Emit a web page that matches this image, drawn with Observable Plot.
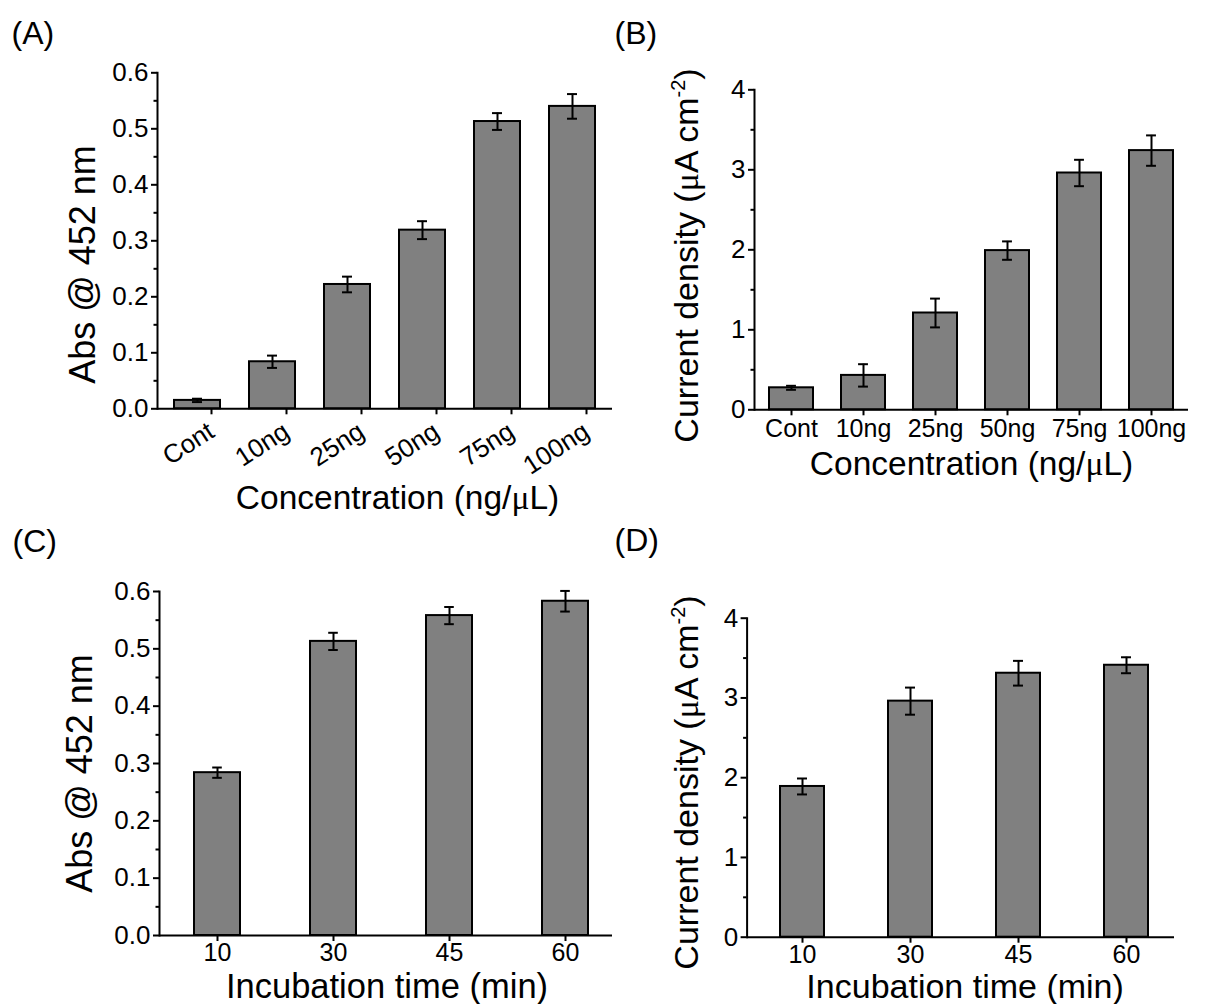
<!DOCTYPE html>
<html><head><meta charset="utf-8">
<script src="https://cdn.jsdelivr.net/npm/d3@7"></script>
<script src="https://cdn.jsdelivr.net/npm/@observablehq/plot@0.6"></script>
<style>
body{margin:0;background:#fff;}
#fig{position:relative;width:1205px;height:1004px;overflow:hidden;background:#fff;}
#fig svg{position:absolute;left:0;top:0;overflow:visible;max-width:none !important;}
</style></head><body><div id="fig"></div>
<script>
// ---- data ----
const concCats = ["Cont","10ng","25ng","50ng","75ng","100ng"];
const absConc = [0.015,0.084,0.222,0.319,0.513,0.540];
const absConcErr = [0.003,0.011,0.014,0.016,0.015,0.022];
const curConc = [0.275,0.43,1.21,1.99,2.96,3.24];
const curConcErr = [0.025,0.14,0.18,0.115,0.165,0.19];
const timeCats = ["10","30","45","60"];
const absTime = [0.284,0.513,0.558,0.583];
const absTimeErr = [0.009,0.015,0.015,0.018];
const curTime = [1.89,2.96,3.31,3.41];
const curTimeErr = [0.10,0.17,0.155,0.10];
const absTicks = [0,0.1,0.2,0.3,0.4,0.5,0.6];
const absMinor = [0.05,0.15,0.25,0.35,0.45,0.55];
const curTicks = [0,1,2,3,4];
const curMinor = [0.5,1.5,2.5,3.5];
const absLabel = "Abs @ 452 nm";
const curLabel = "Current density (μA cm^-2)";
const concLabel = "Concentration (ng/μL)";
const timeLabel = "Incubation time (min)";

const W = 1205, H = 1004;
const FONT = '"Liberation Sans", Arial, Helvetica, sans-serif';

function panel(o) {
  const data = o.cats.map((c, i) => ({c, v: o.vals[i], e: o.errs[i]}));
  const bw = (o.range[1] - o.range[0]) / o.cats.length * (1 - o.pad);
  const capInset = (bw - 10) / 2;
  const L = o.left, T = o.top;
  const txt = (s, X, Y, opts) => Plot.text([s], {
    text: d => d, frameAnchor: "top-left", dx: X - L, dy: Y - T, fill: "black", ...opts
  });
  return Plot.plot({
    width: W, height: H,
    marginLeft: o.left, marginRight: W - o.right, marginTop: o.top, marginBottom: H - o.bottom,
    style: {background: "transparent", fontFamily: FONT, color: "black", overflow: "visible"},
    x: {domain: o.cats, range: o.range, paddingInner: o.pad, paddingOuter: o.pad / 2},
    y: {domain: o.ydomain},
    marks: [
      Plot.barY(data, {x: "c", y: "v", fill: "#808080", stroke: "black", strokeWidth: 2}),
      Plot.ruleX(data, {x: "c", y1: d => d.v - d.e, y2: d => d.v + d.e, stroke: "black", strokeWidth: 2}),
      Plot.tickY(data, {x: "c", y: d => d.v + d.e, insetLeft: capInset, insetRight: capInset, stroke: "black", strokeWidth: 2}),
      Plot.tickY(data, {x: "c", y: d => d.v - d.e, insetLeft: capInset, insetRight: capInset, stroke: "black", strokeWidth: 2}),
      Plot.ruleY([o.ydomain[0]], {stroke: "black", strokeWidth: 2}),
      Plot.frame({anchor: "left", stroke: "black", strokeWidth: 2}),
      Plot.axisY(o.yticks, {tickSize: 6, strokeWidth: 2, fontSize: 26, tickPadding: 3, tickFormat: o.yfmt, label: null}),
      Plot.axisY(o.yminor, {tickSize: 3.5, strokeWidth: 2, fill: "none", label: null}),
      Plot.axisX({tickSize: 6, strokeWidth: 2, fontSize: o.xfs, tickPadding: o.xpad, tickRotate: o.rot, dx: o.xdx || 0, label: null}),
      txt(o.ylabel, o.ylx, o.yly, {rotate: -90, textAnchor: "middle", lineAnchor: "middle", fontSize: o.ylfs}),
      txt(o.xlabel, o.xlx, o.xly, {textAnchor: "middle", lineAnchor: "bottom", fontSize: o.xlfs}),
      txt(o.tag, o.tagx, o.tagy, {textAnchor: "start", lineAnchor: "bottom", fontSize: 32})
    ]
  });
}

function richText(svg) {
  d3.select(svg).selectAll("text").each(function () {
    const el = this;
    if (el.querySelector("tspan")) return;
    const s = el.textContent;
    if (!s.includes("μ") && !s.includes("^")) return;
    el.textContent = "";
    const parts = s.split(/(μ|\^-2)/).filter(p => p.length);
    let shifted = false;
    for (const p of parts) {
      const t = document.createElementNS("http://www.w3.org/2000/svg", "tspan");
      if (p === "μ") {
        t.setAttribute("font-family", '"Liberation Serif", "Times New Roman", serif');
        t.textContent = "μ";
      } else if (p === "^-2") {
        t.setAttribute("font-size", "20");
        t.setAttribute("dy", "-13");
        t.textContent = "-2";
        shifted = true;
      } else {
        if (shifted) { t.setAttribute("dy", "13"); shifted = false; }
        t.textContent = p;
      }
      el.appendChild(t);
    }
  });
}

const panels = [
  {cats: concCats, vals: absConc, errs: absConcErr, left: 157, right: 612, top: 72.3, bottom: 408.3,
   range: [157, 612], pad: 0.393, ydomain: [0, 0.6], yticks: absTicks, yminor: absMinor, yfmt: d3.format(".1f"),
   rot: -33, xfs: 26, xpad: 14, xdx: 14, ylabel: absLabel, ylx: 83, yly: 264, ylfs: 36,
   xlabel: concLabel, xlx: 397, xly: 508, xlfs: 33.5, tag: "(A)", tagx: 11, tagy: 43},
  {cats: concCats, vals: curConc, errs: curConcErr, left: 754, right: 1188, top: 89.3, bottom: 409.3,
   range: [754, 1188], pad: 0.39, ydomain: [0, 4], yticks: curTicks, yminor: curMinor, yfmt: d3.format("d"),
   rot: 0, xfs: 25, xpad: 3, ylabel: curLabel, ylx: 687, yly: 255, ylfs: 34,
   xlabel: concLabel, xlx: 971, xly: 474, xlfs: 33.5, tag: "(B)", tagx: 614, tagy: 43},
  {cats: timeCats, vals: absTime, errs: absTimeErr, left: 159, right: 612, top: 591, bottom: 935,
   range: [159, 623], pad: 0.6, ydomain: [0, 0.6], yticks: absTicks, yminor: absMinor, yfmt: d3.format(".1f"),
   rot: 0, xfs: 25, xpad: 2, ylabel: absLabel, ylx: 80, yly: 773, ylfs: 36,
   xlabel: timeLabel, xlx: 386.5, xly: 997, xlfs: 34.5, tag: "(C)", tagx: 12, tagy: 551},
  {cats: timeCats, vals: curTime, errs: curTimeErr, left: 746.6, right: 1174, top: 617.7, bottom: 936.7,
   range: [746.6, 1181.4], pad: 0.595, ydomain: [0, 4], yticks: curTicks, yminor: curMinor, yfmt: d3.format("d"),
   rot: 0, xfs: 25, xpad: 2, ylabel: curLabel, ylx: 687, yly: 782, ylfs: 34,
   xlabel: timeLabel, xlx: 964.6, xly: 997, xlfs: 34, tag: "(D)", tagx: 614, tagy: 550}
];

const fig = document.getElementById("fig");
for (const p of panels) {
  const svg = panel(p);
  richText(svg);
  fig.appendChild(svg);
}
</script></body></html>
